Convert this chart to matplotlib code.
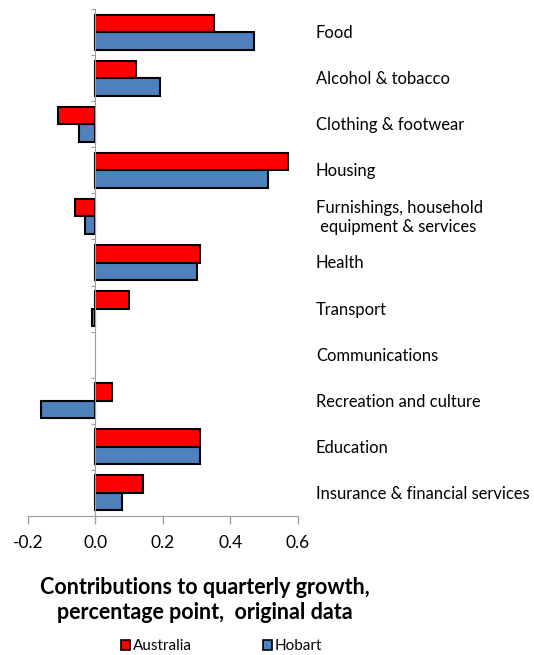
import numpy as np
import matplotlib
matplotlib.use("Agg")
import matplotlib.pyplot as plt
from matplotlib.patches import Patch
import matplotlib.transforms as mtransforms

categories = [
    "Food",
    "Alcohol & tobacco",
    "Clothing & footwear",
    "Housing",
    "Furnishings, household\n equipment & services",
    "Health",
    "Transport",
    "Communications",
    "Recreation and culture",
    "Education",
    "Insurance & financial services",
]
australia = [0.35, 0.12, -0.11, 0.57, -0.06, 0.31, 0.10, 0.00, 0.05, 0.31, 0.14]
hobart = [0.47, 0.19, -0.05, 0.51, -0.03, 0.30, -0.01, 0.00, -0.16, 0.31, 0.08]
x_ticks = [-0.2, 0.0, 0.2, 0.4, 0.6]

plt.rcParams["font.family"] = ["Lato", "DejaVu Sans"]

fig = plt.figure(figsize=(5.34, 6.55), dpi=100)
ax = fig.add_axes([0.0524, 0.2122, 0.5056, 0.7740])

y = np.arange(len(categories))
h = 0.38
# zero-valued bars get no outline so they don't show as a stray line
aus_lw = [0 if v == 0 else 1.5 for v in australia]
hob_lw = [0 if v == 0 else 1.5 for v in hobart]
ax.barh(y - h / 2, australia, height=h, color="#ff0000", edgecolor="black",
        linewidth=aus_lw, label="Australia")
ax.barh(y + h / 2, hobart, height=h, color="#4f81bd", edgecolor="black",
        linewidth=hob_lw, label="Hobart")

ax.set_ylim(len(categories) - 0.5, -0.5)
ax.set_xlim(-0.2, 0.6)

# category boundary ticks on the zero line
ax.set_yticks(np.arange(len(categories) + 1) - 0.5)
ax.set_yticklabels([])
ax.spines["left"].set_position(("data", 0))
ax.spines["left"].set_color("#a0a0a0")
ax.spines["bottom"].set_color("#a0a0a0")
ax.spines["top"].set_visible(False)
ax.spines["right"].set_visible(False)
ax.tick_params(axis="y", length=3, color="#a0a0a0", direction="out")

ax.set_xticks(x_ticks)
ax.set_xticklabels([f"{v:.1f}" for v in x_ticks], fontsize=12.5)
ax.tick_params(axis="x", length=6, width=1, color="#a0a0a0", direction="out", pad=8)

# category names to the right of the plot
trans = mtransforms.blended_transform_factory(ax.transAxes, ax.transData)
for i, name in enumerate(categories):
    ax.text(1.066, i + 0.02, name, transform=trans, ha="left", va="center",
            fontsize=11.9, linespacing=1.25)

fig.text(0.384, 0.084, "Contributions to quarterly growth,\npercentage point,  original data",
         ha="center", va="center", fontsize=15.5, fontweight="bold", linespacing=1.2)

handles = [Patch(facecolor="#ff0000", edgecolor="black", linewidth=1.2, label="Australia"),
           Patch(facecolor="#4f81bd", edgecolor="black", linewidth=1.2, label="Hobart")]
fig.legend(handles=handles, loc="center", bbox_to_anchor=(0.415, 0.013), ncol=2,
           frameon=False, fontsize=11, handlelength=0.6, handleheight=0.6,
           handletextpad=0.2, columnspacing=4.6)

fig.savefig("out.png", dpi=100)
